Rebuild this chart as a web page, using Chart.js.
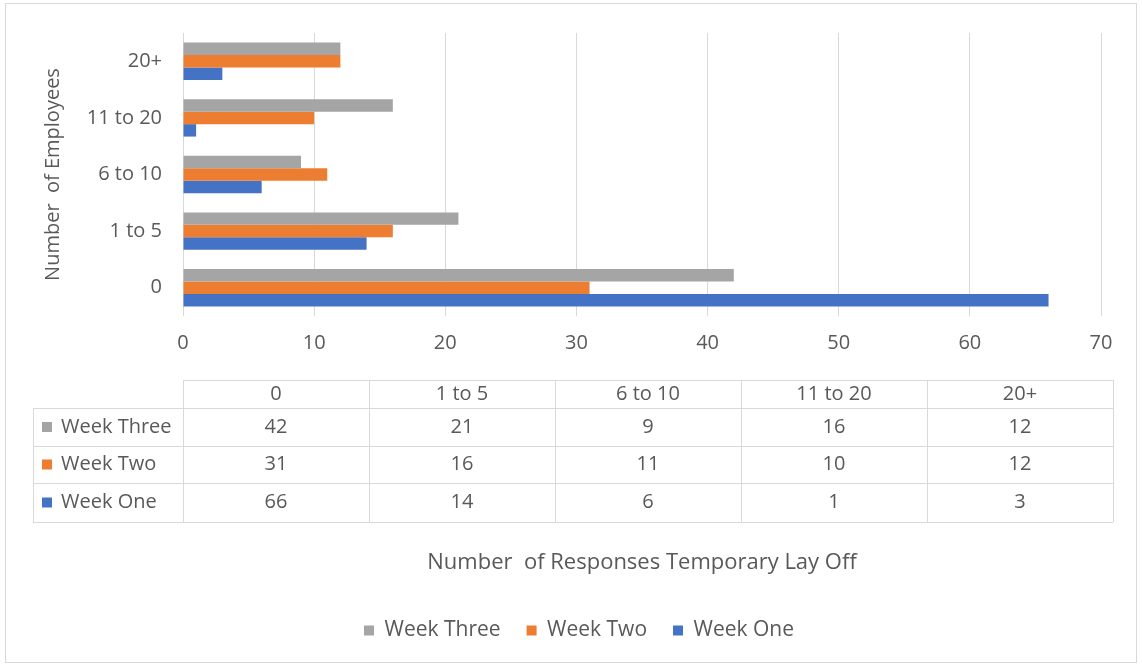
<!DOCTYPE html>
<html>
<head>
<meta charset="utf-8">
<script src="https://cdn.jsdelivr.net/npm/chart.js@4/dist/chart.umd.min.js"></script>
<style>
  html, body { margin: 0; padding: 0; background: #fff; }
</style>
</head>
<body>
<canvas id="GraficaCanvas" width="1142" height="666"></canvas>
<script>
const categories = ["0", "1 to 5", "6 to 10", "11 to 20", "20+"];
const weekThree = [42, 21, 9, 16, 12];
const weekTwo = [31, 16, 11, 10, 12];
const weekOne = [66, 14, 6, 1, 3];
const seriesNames = ["Week Three", "Week Two", "Week One"];
const seriesColors = ["#a5a5a5", "#ed7d31", "#4472c4"];

const textColor = "#595959";
const lineColor = "#d9d9d9";
const fontFamily = "'Open Sans', sans-serif";

Chart.defaults.font.family = fontFamily;
Chart.defaults.font.size = 20;
Chart.defaults.color = textColor;

// white background and the light frame round the whole chart
const marco = {
  id: "marco",
  beforeDraw(chart) {
    const ctx = chart.ctx;
    ctx.save();
    ctx.fillStyle = "#fff";
    ctx.fillRect(0, 0, chart.width, chart.height);
    ctx.strokeStyle = lineColor;
    ctx.lineWidth = 1;
    ctx.strokeRect(5.5, 3.5, chart.width - 11, chart.height - 7);
    ctx.restore();
  },
};

// Excel style data table under the x axis
const tablaDatos = {
  id: "tablaDatos",
  afterDraw(chart) {
    const ctx = chart.ctx;
    const area = chart.chartArea;
    const left = area.left;
    const right = area.right + 12;
    const labelLeft = 33;
    const colW = (right - left) / categories.length;
    const rowsY = [380, 408, 446, 483, 522];

    ctx.save();
    ctx.strokeStyle = lineColor;
    ctx.lineWidth = 1;
    ctx.beginPath();
    // horizontal lines
    ctx.moveTo(left, rowsY[0] + 0.5);
    ctx.lineTo(right, rowsY[0] + 0.5);
    for (let r = 1; r < rowsY.length; r++) {
      ctx.moveTo(labelLeft, rowsY[r] + 0.5);
      ctx.lineTo(right, rowsY[r] + 0.5);
    }
    // vertical lines
    ctx.moveTo(labelLeft + 0.5, rowsY[1]);
    ctx.lineTo(labelLeft + 0.5, rowsY[rowsY.length - 1]);
    for (let c = 0; c <= categories.length; c++) {
      const x = Math.round(left + c * colW) + 0.5;
      ctx.moveTo(x, rowsY[0]);
      ctx.lineTo(x, rowsY[rowsY.length - 1]);
    }
    ctx.stroke();

    ctx.font = "20px " + fontFamily;
    ctx.fillStyle = textColor;
    ctx.textAlign = "center";
    ctx.textBaseline = "middle";
    categories.forEach((cat, c) => {
      ctx.fillText(cat, left + c * colW + colW / 2, (rowsY[0] + rowsY[1]) / 2);
    });

    chart.data.datasets.forEach((ds, r) => {
      const cy = (rowsY[r + 1] + rowsY[r + 2]) / 2;
      ds.data.forEach((v, c) => {
        ctx.fillStyle = textColor;
        ctx.textAlign = "center";
        ctx.fillText(String(v), left + c * colW + colW / 2, cy);
      });
      ctx.fillStyle = ds.backgroundColor;
      ctx.fillRect(labelLeft + 9, cy - 5, 10, 10);
      ctx.fillStyle = textColor;
      ctx.textAlign = "left";
      ctx.fillText(ds.label, labelLeft + 28, cy);
    });
    ctx.restore();
  },
};

const seriesData = [weekThree, weekTwo, weekOne];

new Chart(document.getElementById("GraficaCanvas").getContext("2d"), {
  type: "bar",
  data: {
    labels: categories,
    datasets: seriesNames.map((name, i) => ({
      label: name,
      data: seriesData[i],
      backgroundColor: seriesColors[i],
      borderWidth: 0,
      categoryPercentage: 0.66,
      barPercentage: 1,
    })),
  },
  options: {
    indexAxis: "y",
    responsive: false,
    animation: false,
    // left padding keeps the legend centred like the original
    layout: { padding: { top: 30, right: 41, left: 57, bottom: 15 } },
    scales: {
      x: {
        min: 0,
        max: 70,
        ticks: { stepSize: 10, padding: 15 },
        grid: { color: lineColor, drawTicks: false },
        border: { display: false },
        title: {
          display: true,
          text: "Number  of Responses Temporary Lay Off",
          font: { size: 22 },
          padding: { top: 0, bottom: 18 },
        },
        afterFit(scale) {
          scale.height = 278;
        },
      },
      y: {
        reverse: true,
        ticks: { padding: 21 },
        grid: { display: false, drawTicks: false },
        border: { display: false },
        title: {
          display: true,
          text: "Number  of Employees",
          padding: { top: -16, bottom: 0 },
        },
        afterFit(scale) {
          scale.width = 126;
        },
      },
    },
    plugins: {
      legend: {
        position: "bottom",
        labels: { boxWidth: 10, boxHeight: 10, padding: 26, font: { size: 21 } },
      },
      tooltip: { enabled: false },
    },
  },
  plugins: [marco, tablaDatos],
});
</script>
</body>
</html>
